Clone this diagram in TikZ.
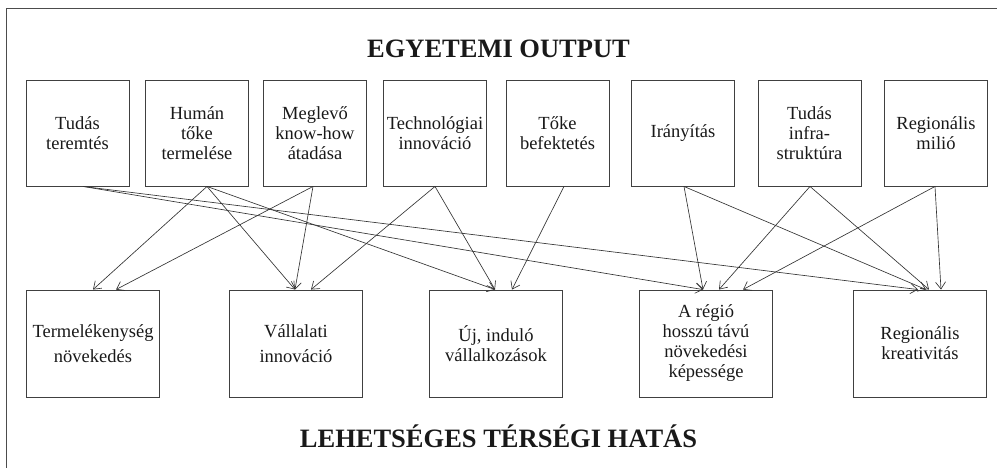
\documentclass[tikz,border=0pt]{standalone}
\usepackage{fontspec}
\setmainfont{Liberation Serif}
\usetikzlibrary{arrows.meta}
\begin{document}
\begin{tikzpicture}[x=1pt,y=-1pt,
  box/.style={draw=black!75, line width=0.9pt, inner sep=0pt, align=center,
    font=\fontsize{18.5}{20}\selectfont, text=black!90},
  topbox/.style={box, minimum width=103pt, minimum height=106pt},
  botbox/.style={box, minimum width=133pt, minimum height=107pt},
  link/.style={draw=black!80, line width=0.65pt, -{Straight Barb[length=7pt,width=10pt]}},
  heading/.style={font=\fontsize{26.5}{30}\selectfont\bfseries, anchor=base, text=black!90}]
\useasboundingbox (0,0) rectangle (997,467);
% frame
\draw[black!70, line width=1pt] (6,480) -- (6,8) -- (1010,8);

% headings
\node[heading] (h1) at (498.5,57) {EGYETEMI OUTPUT};
\node[heading] (h2) at (498.5,447) {LEHETSÉGES TÉRSÉGI HATÁS};

% university outputs
\node[topbox] (t1) at (77.5,133) {Tudás\\teremtés};
\node[topbox] (t2) at (197,133) {Humán\\tőke\\termelése};
\node[topbox] (t3) at (315,133) {Meglevő\\know-how\\átadása};
\node[topbox] (t4) at (435,133) {Technológiai\\innováció};
\node[topbox] (t5) at (557.5,133) {Tőke\\befektetés};
\node[topbox] (t6) at (683,133) {Irányítás};
\node[topbox] (t7) at (809.5,133) {Tudás\\infra-\\struktúra};
\node[topbox] (t8) at (936,133) {Regionális\\milió};

% regional impacts
\node[botbox] (b1) at (93,343.5) {Termelékenység\\[5pt]növekedés};
\node[botbox] (b2) at (296,343.5) {Vállalati\\[5pt]innováció};
\node[botbox] (b3) at (496,343.5) {Új, induló\\vállalkozások};
\node[botbox] (b4) at (706,343.5) {A régió\\hosszú távú\\növekedési\\képessége};
\node[botbox] (b5) at (920,343.5) {Regionális\\kreativitás};

% links
\draw[link] ([xshift=5.5pt]t1.south) -- ([xshift=-3pt]b4.north);
\draw[link] ([xshift=5.5pt]t1.south) -- ([xshift=-2pt]b5.north);

\draw[link] ([xshift=10pt]t2.south) -- (b1.north);
\draw[link] ([xshift=10pt]t2.south) -- ([xshift=-1pt]b2.north);
\draw[link] ([xshift=10pt]t2.south) -- ([xshift=-1pt]b3.north);

\draw[link] ([xshift=-2pt]t3.south) -- ([xshift=23pt]b1.north);
\draw[link] ([xshift=-2pt]t3.south) -- ([xshift=-1pt]b2.north);

\draw[link] (t4.south) -- ([xshift=15pt]b2.north);
\draw[link] (t4.south) -- ([xshift=-1pt]b3.north);

\draw[link] ([xshift=6.5pt]t5.south) -- ([xshift=16pt]b3.north);

\draw[link] ([xshift=1pt]t6.south) -- ([xshift=-3pt]b4.north);
\draw[link] ([xshift=1pt]t6.south) -- ([xshift=6pt]b5.north);

\draw[link] ([xshift=0.5pt]t7.south) -- ([xshift=13pt]b4.north);
\draw[link] ([xshift=0.5pt]t7.south) -- ([xshift=9pt]b5.north);

\draw[link] ([xshift=-1pt]t8.south) -- ([xshift=37pt]b4.north);
\draw[link] ([xshift=-1pt]t8.south) -- ([xshift=21pt]b5.north);
\end{tikzpicture}
\end{document}
